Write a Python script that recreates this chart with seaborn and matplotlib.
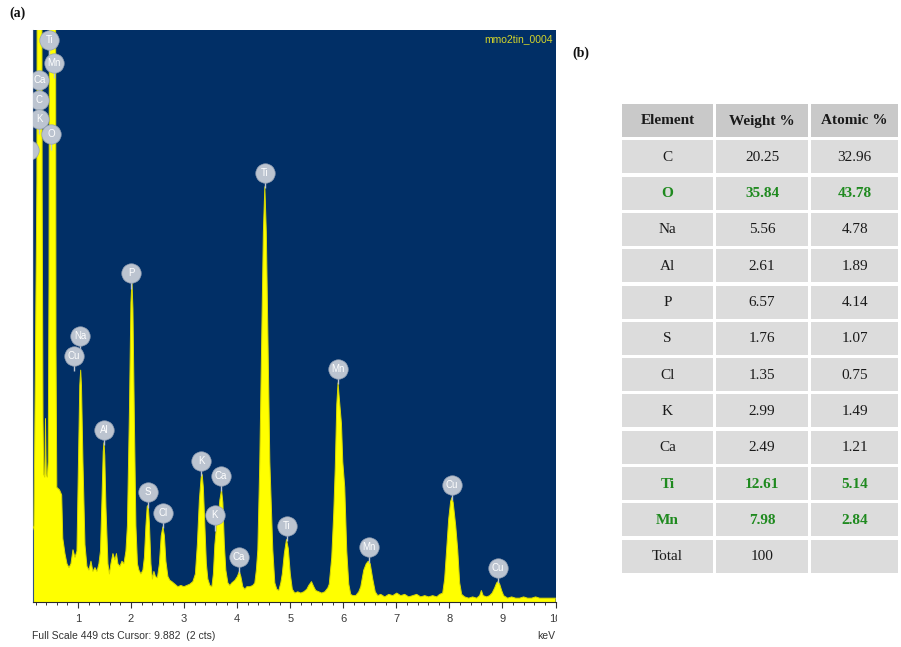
import matplotlib
matplotlib.use("Agg")
import matplotlib.pyplot as plt
import seaborn as sns
import pandas as pd
from matplotlib.patches import Rectangle
from matplotlib.ticker import MultipleLocator, FixedLocator
from matplotlib.transforms import Bbox, TransformedBbox

# ---------------- EDS spectrum (keV, counts) ----------------
energy_kev = [
    0.143, 0.171, 0.190, 0.209, 0.226, 0.234, 0.275, 0.316, 0.325, 0.341,
    0.356, 0.375, 0.388, 0.403, 0.422, 0.439, 0.454, 0.466, 0.520, 0.575,
    0.586, 0.601, 0.652, 0.693, 0.714, 0.755, 0.793, 0.831, 0.868, 0.906,
    0.944, 0.981, 1.009, 1.034, 1.051, 1.066, 1.094, 1.132, 1.169, 1.207,
    1.245, 1.282, 1.320, 1.358, 1.395, 1.424, 1.452, 1.476, 1.490, 1.505,
    1.527, 1.565, 1.593, 1.621, 1.659, 1.697, 1.725, 1.753, 1.791, 1.829,
    1.866, 1.904, 1.932, 1.970, 1.998, 2.017, 2.036, 2.064, 2.092, 2.121,
    2.149, 2.186, 2.224, 2.252, 2.281, 2.305, 2.324, 2.346, 2.375, 2.403,
    2.431, 2.460, 2.497, 2.535, 2.569, 2.601, 2.629, 2.657, 2.695, 2.733,
    2.770, 2.827, 2.883, 2.940, 2.996, 3.053, 3.109, 3.166, 3.213, 3.250,
    3.288, 3.322, 3.341, 3.363, 3.392, 3.420, 3.448, 3.486, 3.524, 3.552,
    3.580, 3.612, 3.646, 3.674, 3.706, 3.731, 3.759, 3.787, 3.825, 3.862,
    3.900, 3.957, 4.004, 4.041, 4.070, 4.107, 4.145, 4.183, 4.239, 4.296,
    4.333, 4.362, 4.390, 4.427, 4.460, 4.494, 4.522, 4.550, 4.584, 4.616,
    4.672, 4.710, 4.748, 4.785, 4.823, 4.851, 4.889, 4.930, 4.964, 5.002,
    5.040, 5.087, 5.143, 5.200, 5.256, 5.313, 5.350, 5.401, 5.444, 5.482,
    5.539, 5.595, 5.652, 5.708, 5.736, 5.783, 5.821, 5.849, 5.878, 5.902,
    5.925, 5.966, 5.991, 6.028, 6.066, 6.104, 6.141, 6.179, 6.235, 6.292,
    6.330, 6.386, 6.433, 6.471, 6.508, 6.556, 6.603, 6.650, 6.706, 6.782,
    6.857, 6.932, 7.008, 7.083, 7.158, 7.234, 7.309, 7.384, 7.460, 7.535,
    7.610, 7.685, 7.761, 7.817, 7.874, 7.911, 7.949, 7.987, 8.024, 8.049,
    8.072, 8.119, 8.157, 8.194, 8.232, 8.288, 8.364, 8.439, 8.514, 8.571,
    8.603, 8.637, 8.703, 8.759, 8.806, 8.853, 8.891, 8.919, 8.948, 8.985,
    9.023, 9.098, 9.173, 9.249, 9.324, 9.399, 9.474, 9.550, 9.625, 9.701,
    9.776, 9.851, 9.926, 10.002,
]
counts = [
    56, 60, 150, 250, 330, 600, 2000, 600, 330, 143,
    100, 98, 144, 100, 98, 110, 250, 600, 3000, 600,
    200, 90, 88, 84, 50, 38, 30, 27, 30, 41,
    35, 40, 110, 170, 182, 170, 110, 45, 28, 25,
    32, 24, 27, 24, 30, 40, 80, 118, 125, 115,
    75, 30, 22, 30, 38, 33, 38, 30, 28, 32,
    30, 40, 60, 150, 235, 252, 230, 140, 60, 30,
    25, 22, 25, 35, 60, 75, 76, 62, 30, 18,
    24, 20, 19, 30, 52, 59, 52, 32, 20, 17,
    16, 14, 12, 13, 12, 13, 14, 16, 22, 45,
    80, 98, 100, 90, 60, 30, 18, 13, 12, 22,
    45, 60, 68, 80, 88, 78, 45, 25, 15, 13,
    15, 17, 20, 24, 20, 12, 10, 12, 12, 13,
    15, 25, 41, 110, 198, 290, 326, 290, 198, 110,
    41, 15, 10, 9, 15, 22, 38, 49, 42, 22,
    10, 7, 8, 7, 8, 10, 13, 16, 12, 9,
    8, 7, 8, 11, 14, 35, 70, 105, 155, 172,
    160, 140, 110, 90, 40, 14, 6, 5, 5, 8,
    12, 25, 30, 32, 30, 18, 8, 5, 6, 4,
    6, 5, 7, 5, 6, 4, 5, 6, 4, 5,
    4, 5, 4, 6, 7, 18, 41, 65, 79, 82,
    78, 60, 41, 15, 6, 4, 3, 4, 3, 5,
    9, 5, 4, 5, 7, 11, 15, 16, 14, 9,
    5, 3, 4, 3, 3, 4, 3, 3, 4, 3,
    3, 3, 3, 3,
]

# Peak identification markers (element, energy keV, marker height cts)
peak_names = ["Al", "Ti", "Mn", "Ca", "C", "K", "O", "Cu", "Na", "Al", "P", "S",
              "Cl", "K", "K", "Ca", "Ca", "Ti", "Ti", "Mn", "Mn", "Cu", "Cu"]
peak_kev = [0.07, 0.46, 0.55, 0.27, 0.27, 0.27, 0.49, 0.92, 1.04, 1.49, 2.00, 2.32,
            2.60, 3.32, 3.58, 3.69, 4.03, 4.52, 4.94, 5.90, 6.48, 8.04, 8.91]
peak_cts = [355, 441, 423, 410, 394, 379, 367, 193, 209, 135, 258, 86,
            70, 111, 68, 99, 35, 337, 60, 183, 43, 92, 27]

x_ticks = [1, 2, 3, 4, 5, 6, 7, 8, 9, 10]
full_scale = 449

# ---------------- Quantification table ----------------
elements = ["C", "O", "Na", "Al", "P", "S", "Cl", "K", "Ca", "Ti", "Mn"]
weight_pct = [20.25, 35.84, 5.56, 2.61, 6.57, 1.76, 1.35, 2.99, 2.49, 12.61, 7.98]
atomic_pct = [32.96, 43.78, 4.78, 1.89, 4.14, 1.07, 0.75, 1.49, 1.21, 5.14, 2.84]
weight_total = 100
highlighted = ["O", "Ti", "Mn"]
headers = ["Element", "Weight %", "Atomic %"]

sns.set_theme(style="white")
plt.rcParams["font.family"] = ["Liberation Sans", "DejaVu Sans"]

W, H = 901, 647
fig = plt.figure(figsize=(W / 100, H / 100), dpi=100)
fig.patch.set_facecolor("white")

# spectrum panel
left, right, top, bottom = 32.5, 555.5, 30, 602
ax = fig.add_axes([left / W, 1 - bottom / H, (right - left) / W, (bottom - top) / H])
ax.set_facecolor("#012f66")

spec = pd.DataFrame({"keV": energy_kev, "cts": counts})
ax.fill_between(spec["keV"], 0, spec["cts"], color="#ffff00", lw=0, zorder=2)
sns.lineplot(data=spec, x="keV", y="cts", ax=ax, color="#d9d900", lw=0.7,
             estimator=None, sort=False, zorder=3)

ax.set_xlim(0.143, 10.0)
ax.set_ylim(0, full_scale)
ax.set_xlabel("")
ax.set_ylabel("")
ax.set_yticks([])
ax.xaxis.set_major_locator(FixedLocator(x_ticks))
ax.xaxis.set_minor_locator(MultipleLocator(0.2))
ax.tick_params(axis="x", which="major", direction="out", length=4, width=0.8,
               color="#333333", labelbottom=False, bottom=True)
ax.tick_params(axis="x", which="minor", direction="out", length=2.5, width=0.7,
               color="#333333", bottom=True)
for s in ["top", "right"]:
    ax.spines[s].set_visible(False)
ax.spines["left"].set_color("#35557f")
ax.spines["left"].set_linewidth(0.8)
ax.spines["bottom"].set_color("#2a2a2a")
ax.spines["bottom"].set_linewidth(0.8)

# tick labels, cut at the panel's right border
clip_box = TransformedBbox(Bbox([[0, 0], [557 / W, 1]]), fig.transFigure)
for t in x_ticks:
    txt = ax.text(t, -16.5 / (bottom - top), str(t), transform=ax.get_xaxis_transform(),
                  ha="center", va="center", fontsize=8, color="#3a3a3a")
    txt.set_clip_box(clip_box)
    txt.set_clip_on(True)

# peak markers
marker_col = "#bcc4d0"
ax.vlines(peak_kev, [c - 12 for c in peak_cts], [c - 6.5 for c in peak_cts],
          color=marker_col, lw=1.0, zorder=4)
sns.scatterplot(x=peak_kev, y=peak_cts, ax=ax, s=195, color=marker_col,
                edgecolor="#93a0b4", linewidth=0.5, zorder=5, legend=False)
for name, e, c in zip(peak_names, peak_kev, peak_cts):
    ax.text(e, c, name, ha="center", va="center", fontsize=7, color="white",
            zorder=6, clip_on=True)

ax.text(0.995, 0.992, "mmo2tin_0004", transform=ax.transAxes, ha="right", va="top",
        fontsize=7.5, color="#d4d42a", zorder=6)

fig.text(32 / W, 1 - 636 / H, "Full Scale 449 cts Cursor: 9.882  (2 cts)",
         ha="left", va="center", fontsize=7.5, color="#333333")
fig.text(555 / W, 1 - 636 / H, "keV", ha="right", va="center", fontsize=7.5,
         color="#333333")

# overlay in pixel coordinates for panel letters and the table
ov = fig.add_axes([0, 0, 1, 1], zorder=10)
ov.set_xlim(0, W)
ov.set_ylim(H, 0)
ov.axis("off")
ov.patch.set_alpha(0)

serif = ["Liberation Serif", "DejaVu Serif"]
ov.text(18, 13, "(a)", ha="center", va="center", fontsize=10, fontweight="bold",
        family=serif, color="#111111")
ov.text(581, 53, "(b)", ha="center", va="center", fontsize=10, fontweight="bold",
        family=serif, color="#111111")

col_edges = [(622.3, 712.7), (716.0, 808.3), (811.3, 898.0)]
row_top0, row_pitch, row_h = 104.0, 36.3, 33.0

rows = [headers]
for el, w, a in zip(elements, weight_pct, atomic_pct):
    rows.append([el, f"{w:.2f}", f"{a:.2f}"])
rows.append(["Total", f"{weight_total}", ""])

for i, row in enumerate(rows):
    y0 = row_top0 + i * row_pitch
    is_header = i == 0
    green = (not is_header) and row[0] in highlighted
    for (x0, x1), val in zip(col_edges, row):
        ov.add_patch(Rectangle((x0, y0), x1 - x0, row_h, facecolor="#c9c9c9" if is_header else "#dcdcdc",
                               edgecolor="none"))
        ov.text((x0 + x1) / 2, y0 + row_h / 2 + 0.5, val, ha="center", va="center",
                fontsize=11, family=serif,
                fontweight="bold" if (is_header or green) else "normal",
                color="#1f8a1f" if green else "#1a1a1a")

fig.savefig("out.png", dpi=100, facecolor="white")
